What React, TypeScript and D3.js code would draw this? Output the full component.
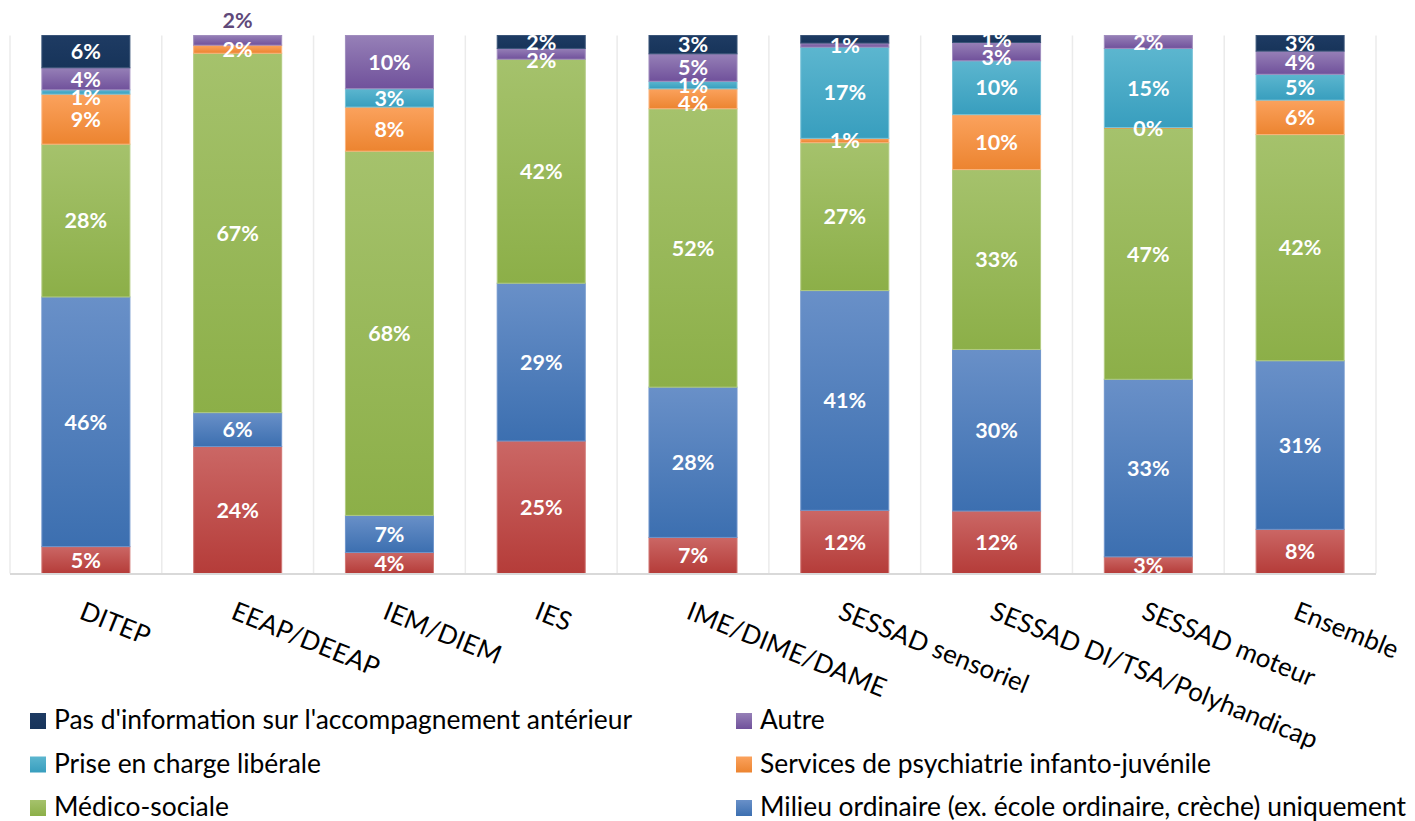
import React from "react";
import * as d3 from "d3";

// Établissements / services (catégories de l'axe horizontal)
const categories = [
  "DITEP",
  "EEAP/DEEAP",
  "IEM/DIEM",
  "IES",
  "IME/DIME/DAME",
  "SESSAD sensoriel",
  "SESSAD DI/TSA/Polyhandicap",
  "SESSAD moteur",
  "Ensemble",
];

// Parts (%) par accompagnement antérieur, de bas en haut de la pile
const serieRouge = [5.0, 23.6, 3.9, 24.6, 6.7, 11.7, 11.6, 3.1, 8.2];
const milieuOrdinaire = [46.4, 6.3, 6.9, 29.3, 27.9, 40.7, 30.0, 33.0, 31.3];
const medicoSociale = [28.4, 66.8, 67.7, 41.6, 51.7, 27.4, 33.4, 46.6, 42.0];
const psychiatrie = [9.3, 1.5, 8.2, 0, 3.7, 0.8, 10.2, 0.2, 6.4];
const liberale = [0.8, 0, 3.4, 0, 1.4, 16.9, 10.0, 14.7, 4.8];
const autre = [4.1, 1.8, 9.9, 2.0, 5.1, 0.75, 3.4, 2.4, 4.3];
const pasInfo = [6.0, 0, 0, 2.4, 3.4, 1.4, 1.3, 0, 2.9];

type Serie = {
  key: string;
  label: string | null;
  values: number[];
  top: string;
  bottom: string;
  edge: string;
};

const series: Serie[] = [
  { key: "rouge", label: null, values: serieRouge, top: "#CB6765", bottom: "#B53C39", edge: "#D07774" },
  { key: "ordinaire", label: "Milieu ordinaire (ex. école ordinaire, crèche) uniquement", values: milieuOrdinaire, top: "#6990C8", bottom: "#3C6FB0", edge: "#6F95CB" },
  { key: "medico", label: "Médico-sociale", values: medicoSociale, top: "#A5C26C", bottom: "#8CAF48", edge: "#B2CB82" },
  { key: "psy", label: "Services de psychiatrie infanto-juvénile", values: psychiatrie, top: "#FBA25D", bottom: "#EC8430", edge: "#FBB47D" },
  { key: "liberale", label: "Prise en charge libérale", values: liberale, top: "#5CB6CF", bottom: "#389EBE", edge: "#79C3D8" },
  { key: "autre", label: "Autre", values: autre, top: "#9680B7", bottom: "#70519B", edge: "#A08DBE" },
  { key: "pasinfo", label: "Pas d'information sur l'accompagnement antérieur", values: pasInfo, top: "#1E3B63", bottom: "#17345A", edge: "#3A5478" },
];

// Ordre de la légende (deux colonnes, lues ligne par ligne)
const legendOrder = ["pasinfo", "autre", "liberale", "psy", "medico", "ordinaire"];

// Étiquettes particulières
const labelAbove = { category: "EEAP/DEEAP", key: "autre", color: "#60497A" };
const hiddenLabels = [{ category: "SESSAD sensoriel", key: "pasinfo" }];

const W = 1415;
const H = 821;
const plot = { left: 10, right: 1376, top: 35.5, bottom: 573.5 };

const FONT = "Lato, 'Open Sans', sans-serif";
const LABEL_GAP = 18;

export default function App() {
  const rows = categories.map((c, i) => {
    const r: Record<string, number | string> = { category: c };
    series.forEach((s) => (r[s.key] = s.values[i]));
    return r;
  });

  const stack = d3
    .stack<Record<string, number | string>>()
    .keys(series.map((s) => s.key))
    .value((d, k) => d[k] as number)
    .offset(d3.stackOffsetExpand);
  const layers = stack(rows);

  const x = d3
    .scaleBand<string>()
    .domain(categories)
    .range([plot.left, plot.right])
    .paddingInner(0.42)
    .paddingOuter(0.21);
  const y = d3.scaleLinear().domain([0, 1]).range([plot.bottom, plot.top]);

  const step = x.step();
  const gridXs = d3.range(categories.length + 1).map((i) => plot.left + i * step);

  // Positions des étiquettes : centrées, puis écartées de haut en bas si elles se chevauchent
  const labels: { x: number; y: number; text: string; color: string }[] = [];
  categories.forEach((cat, ci) => {
    const items: { y: number; text: string; color: string }[] = [];
    layers.forEach((layer, si) => {
      const s = series[si];
      const v = s.values[ci];
      if (!(v > 0)) return;
      if (hiddenLabels.some((h) => h.category === cat && h.key === s.key)) return;
      const [y0, y1] = layer[ci];
      const text = `${Math.round(v)}%`;
      if (labelAbove.category === cat && labelAbove.key === s.key) {
        labels.push({ x: x(cat)! + x.bandwidth() / 2, y: plot.top - 15, text, color: labelAbove.color });
        return;
      }
      items.push({ y: (y(y0) + y(y1)) / 2, text, color: "#FFFFFF" });
    });
    items.sort((a, b) => a.y - b.y);
    let prev = -Infinity;
    items.forEach((it) => {
      const yy = Math.max(it.y, prev + LABEL_GAP);
      prev = yy;
      labels.push({ x: x(cat)! + x.bandwidth() / 2, y: yy, text: it.text, color: it.color });
    });
  });

  const legendItems = legendOrder.map((k) => series.find((s) => s.key === k)!);

  return (
    <svg
      width={W}
      height={H}
      viewBox={`0 0 ${W} ${H}`}
      style={{ position: "absolute", left: 0, top: 0, background: "#fff" }}
    >
      <defs>
        {series.map((s) => (
          <linearGradient key={s.key} id={`g-${s.key}`} x1="0" y1="0" x2="0" y2="1">
            <stop offset="0%" stopColor={s.top} />
            <stop offset="100%" stopColor={s.bottom} />
          </linearGradient>
        ))}
      </defs>

      {/* Quadrillage vertical entre les catégories */}
      {gridXs.map((gx, i) => (
        <line key={i} x1={gx} x2={gx} y1={plot.top} y2={plot.bottom} stroke="#EBEBEB" strokeWidth={1.5} />
      ))}

      {/* Barres empilées à 100 % */}
      {layers.map((layer, si) => (
        <g key={series[si].key}>
          {layer.map((seg, ci) => {
            const h = y(seg[0]) - y(seg[1]);
            if (h <= 0.01) return null;
            return (
              <rect
                key={ci}
                x={x(categories[ci])}
                y={y(seg[1])}
                width={x.bandwidth()}
                height={h}
                fill={`url(#g-${series[si].key})`}
                stroke={series[si].edge}
                strokeWidth={h > 2 ? 1 : 0}
              />
            );
          })}
        </g>
      ))}

      {/* Axe horizontal */}
      <line x1={plot.left} x2={plot.right} y1={plot.bottom + 0.5} y2={plot.bottom + 0.5} stroke="#D9D9D9" strokeWidth={2} />

      {/* Étiquettes de valeurs */}
      {labels.map((l, i) => (
        <text
          key={i}
          x={l.x}
          y={l.y}
          dy="0.36em"
          textAnchor="middle"
          fontFamily={FONT}
          fontWeight={700}
          fontSize={21.5}
          fill={l.color}
        >
          {l.text}
        </text>
      ))}

      {/* Libellés des catégories, inclinés */}
      {categories.map((c) => {
        const cx = x(c)! + x.bandwidth() / 2 - 8;
        const cy = 618;
        return (
          <text
            key={c}
            transform={`translate(${cx},${cy}) rotate(22)`}
            fontFamily={FONT}
            fontSize={26}
            fill="#000"
          >
            {c}
          </text>
        );
      })}

      {/* Légende */}
      {legendItems.map((s, i) => {
        const col = i % 2;
        const row = Math.floor(i / 2);
        const lx = col === 0 ? 30 : 736;
        const baseY = 729 + row * 43.5;
        return (
          <g key={s.key}>
            <rect x={lx} y={baseY - 16} width={16} height={16} fill={`url(#g-${s.key})`} />
            <text x={lx + 24} y={baseY} fontFamily={FONT} fontSize={26.4} fill="#000">
              {s.label}
            </text>
          </g>
        );
      })}
    </svg>
  );
}
